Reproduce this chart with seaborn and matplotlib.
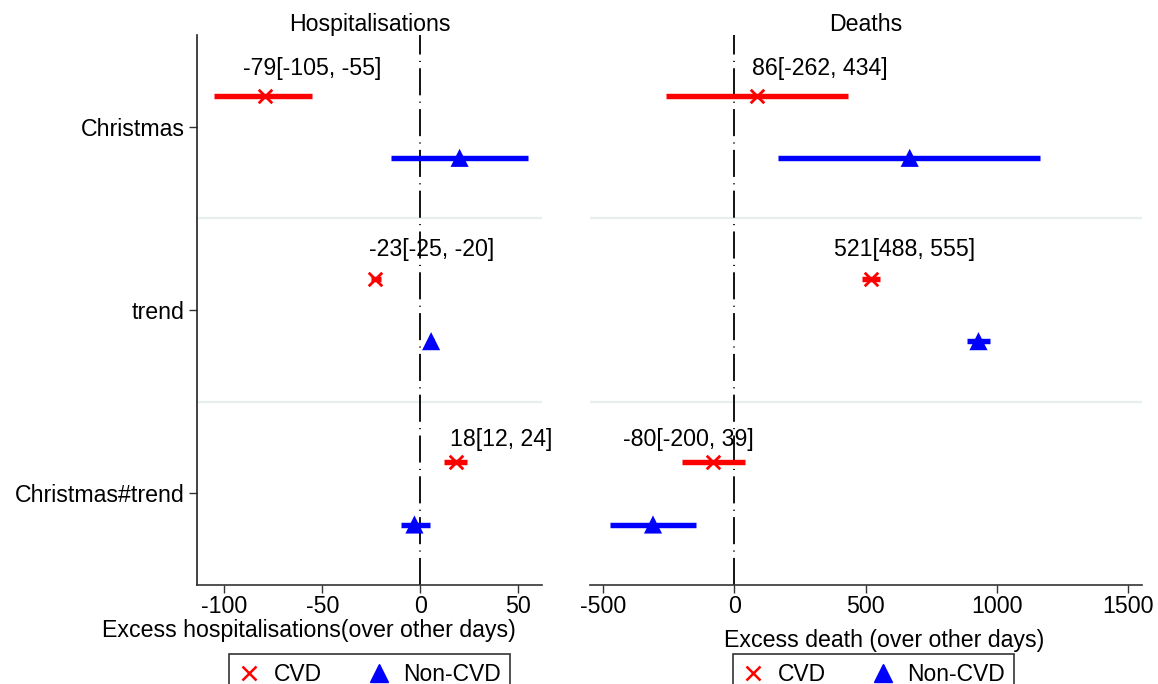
import numpy as np
import pandas as pd
import matplotlib
matplotlib.use("Agg")
import matplotlib.pyplot as plt
import seaborn as sns
from matplotlib.lines import Line2D

# Data
terms = ["Christmas", "trend", "Christmas#trend"]
groups = ["CVD", "Non-CVD"]

hosp_cvd_est = [-79, -23, 18]
hosp_cvd_lo = [-105, -25, 12]
hosp_cvd_hi = [-55, -20, 24]
hosp_non_est = [20, 5.5, -3]
hosp_non_lo = [-15, 4, -10]
hosp_non_hi = [55, 7, 5]

death_cvd_est = [86, 521, -80]
death_cvd_lo = [-262, 488, -200]
death_cvd_hi = [434, 555, 39]
death_non_est = [668, 930, -310]
death_non_lo = [168, 885, -475]
death_non_hi = [1164, 975, -145]

sns.set_theme(style="white")
plt.rcParams["font.family"] = ["Liberation Sans", "DejaVu Sans"]
plt.rcParams["font.size"] = 16.7
plt.rcParams["text.color"] = "black"
plt.rcParams["axes.labelcolor"] = "black"
plt.rcParams["xtick.color"] = "black"
plt.rcParams["ytick.color"] = "black"

FS = 16.7


def make_df(cvd_est, cvd_lo, cvd_hi, non_est, non_lo, non_hi):
    rows = []
    for i, t in enumerate(terms):
        rows.append([t, i, "CVD", cvd_est[i], cvd_lo[i], cvd_hi[i]])
        rows.append([t, i, "Non-CVD", non_est[i], non_lo[i], non_hi[i]])
    df = pd.DataFrame(rows, columns=["term", "idx", "group", "est", "lo", "hi"])
    df["y"] = df["idx"] + np.where(df["group"] == "CVD", -0.17, 0.17)
    return df


hosp = make_df(hosp_cvd_est, hosp_cvd_lo, hosp_cvd_hi, hosp_non_est, hosp_non_lo, hosp_non_hi)
death = make_df(death_cvd_est, death_cvd_lo, death_cvd_hi, death_non_est, death_non_lo, death_non_hi)

colors = {"CVD": "#ff0000", "Non-CVD": "#0000ff"}

fig = plt.figure(figsize=(11.58, 6.84), dpi=100)
ax1 = fig.add_axes([197 / 1158, 1 - 585 / 684, 345 / 1158, 550 / 684])
ax2 = fig.add_axes([590 / 1158, 1 - 585 / 684, 552 / 1158, 550 / 684])

# label placement (layout only)
hosp_label_x = [-55, 6, 41]
death_label_x = [324, 649, -176]
label_dy = [0.15, 0.16, 0.125]


def fmt(v):
    return f"{int(round(v))}"


def draw(ax, df, xlim, ticks, label_x, title):
    for sep in [0.5, 1.5]:
        ax.axhline(sep, color="#e6eeee", lw=1.6, zorder=0)
    ax.axvline(0, color="black", lw=1.3, linestyle=(0, (15, 3.5, 0.6, 3.5)), zorder=1)
    for g in groups:
        d = df[df["group"] == g]
        ax.hlines(d["y"], d["lo"], d["hi"], color=colors[g], lw=3.9, zorder=2)
    cvd = df[df["group"] == "CVD"]
    ax.scatter(cvd["est"], cvd["y"], marker="x", s=95, color=colors["CVD"],
               linewidths=2, zorder=3)
    non = df[df["group"] == "Non-CVD"]
    sns.scatterplot(x=non["est"], y=non["y"], marker="^", s=170, color=colors["Non-CVD"],
                    edgecolor="none", ax=ax, zorder=3, legend=False)
    for i, row in enumerate(cvd.itertuples()):
        ax.text(label_x[i], row.y - label_dy[i], f"{fmt(row.est)}[{fmt(row.lo)}, {fmt(row.hi)}]",
                ha="center", va="center", fontsize=FS, color="black")
    ax.set_xlim(*xlim)
    ax.set_ylim(2.5, -0.5)
    ax.set_xticks(ticks)
    ax.set_xticklabels([str(t) for t in ticks], fontsize=FS)
    ax.set_xlabel("")
    ax.set_ylabel("")
    ax.set_title(title, fontsize=FS, pad=3, color="black")
    for s in ["top", "right"]:
        ax.spines[s].set_visible(False)
    ax.spines["bottom"].set_color("#333333")
    ax.spines["left"].set_color("#222222")
    ax.spines["bottom"].set_linewidth(1.2)
    ax.spines["left"].set_linewidth(1.2)
    ax.tick_params(axis="x", direction="out", length=6, width=1, color="#333333",
                   bottom=True, pad=1, labelcolor="black")


draw(ax1, hosp, (-113.8, 62), [-100, -50, 0, 50], hosp_label_x, "Hospitalisations")
ax1.set_yticks(range(len(terms)))
ax1.set_yticklabels(terms, fontsize=FS)
ax1.tick_params(axis="y", direction="out", length=6, width=1, color="#333333",
                left=True, pad=3, labelcolor="black")

draw(ax2, death, (-550, 1553), [-500, 0, 500, 1000, 1500], death_label_x, "Deaths")
ax2.spines["left"].set_visible(False)
ax2.set_yticks([])

fig.text(308.5 / 1158, 1 - 631 / 684, "Excess hospitalisations(over other days)",
         ha="center", va="center", fontsize=FS, color="black")
fig.text(884 / 1158, 1 - 641 / 684, "Excess death (over other days)",
         ha="center", va="center", fontsize=FS, color="black")

handles = [
    Line2D([], [], marker="x", color=colors["CVD"], linestyle="none", markersize=10, markeredgewidth=1.8),
    Line2D([], [], marker="^", color=colors["Non-CVD"], linestyle="none", markersize=13),
]
for cx in [369.5 / 1158, 873.5 / 1158]:
    leg = fig.legend(handles, groups, loc="upper center", bbox_to_anchor=(cx, 1 - 654 / 684),
                     borderaxespad=0, ncol=2, frameon=True, fancybox=False, fontsize=16.5,
                     handletextpad=0.58, columnspacing=1.96, borderpad=0.375, handlelength=1.0)
    leg.get_frame().set_edgecolor("black")
    leg.get_frame().set_linewidth(1.2)
    for t in leg.get_texts():
        t.set_color("black")

fig.savefig("out.png", dpi=100)
